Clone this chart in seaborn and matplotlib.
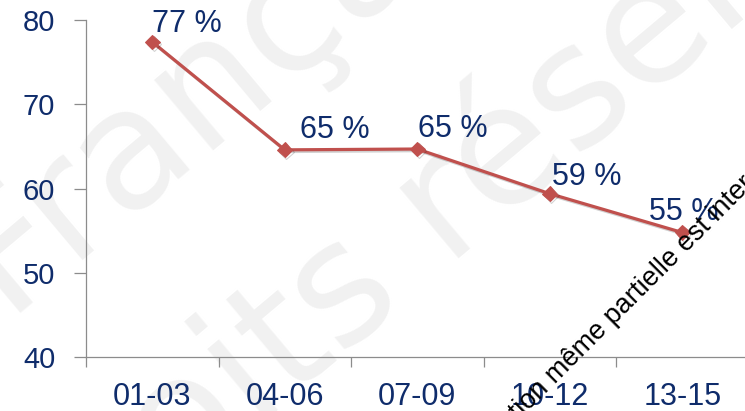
import matplotlib
matplotlib.use("Agg")
import matplotlib.pyplot as plt
import matplotlib.patheffects as pe
import seaborn as sns
import pandas as pd

# Data
periods = ["01-03", "04-06", "07-09", "10-12", "13-15"]
rates = [77.4, 64.6, 64.7, 59.4, 54.8]
y_ticks = [40, 50, 60, 70, 80]

# Label offsets from each marker, in pixels (dx to text left, dy to baseline)
label_offsets = [(0, 10), (15, 12), (1, 12), (2, 9), (-33, 12)]

sns.set_theme(style="white")
plt.rcParams["font.family"] = ["Liberation Sans", "DejaVu Sans"]

navy = "#0F2C6B"
red = "#C0504D"
axis_grey = "#8C8C8C"

W, H = 745, 411
fig = plt.figure(figsize=(W / 100, H / 100), dpi=100)
fig.patch.set_facecolor("white")

ax = fig.add_axes([86 / W, 1 - 357.3 / H, 662.5 / W, (357.3 - 20) / H])
ax.set_facecolor("none")

df = pd.DataFrame({"period": periods, "rate": rates})
sns.lineplot(data=df, x="period", y="rate", sort=False, ax=ax,
             color=red, linewidth=2.3, marker="D", markersize=7.5,
             markeredgecolor=red, markerfacecolor=red)
for line in ax.lines:
    line.set_path_effects([
        pe.SimpleLineShadow(offset=(1.2, -1.2), shadow_color="black", alpha=0.18),
        pe.Normal(),
    ])

for i, (v, (dx, dy)) in enumerate(zip(rates, label_offsets)):
    ax.annotate(f"{v:.0f} %", xy=(i, v), xytext=(dx, dy),
                textcoords="offset pixels", ha="left", va="baseline",
                fontsize=22, color=navy)

ax.set_xlim(-0.5, len(periods) - 0.5)
ax.set_ylim(40, 80)
ax.set_yticks(y_ticks)
ax.set_xticks(range(len(periods)))
ax.set_xticks([i - 0.5 for i in range(len(periods) + 1)], minor=True)
ax.set_xlabel("")
ax.set_ylabel("")

for side in ("top", "right"):
    ax.spines[side].set_visible(False)
for side in ("left", "bottom"):
    ax.spines[side].set_color(axis_grey)
    ax.spines[side].set_linewidth(0.9)

ax.tick_params(axis="y", which="major", direction="out", length=8.6,
               width=0.9, color=axis_grey, labelsize=21, labelcolor=navy,
               pad=13.5, left=True)
ax.tick_params(axis="x", which="major", length=0, labelsize=22,
               labelcolor=navy, pad=18)
ax.tick_params(axis="x", which="minor", direction="out", length=7.2,
               width=0.9, color=axis_grey, bottom=True)

# Faint background watermark
wm_color = "#F1F1F1"
wm_font = ["DejaVu Sans"]
fig.text(4 / W, 1 - 312 / H, "Française", rotation=40, rotation_mode="anchor",
         ha="left", va="baseline", fontsize=120, family=wm_font,
         color=wm_color, zorder=-5)
fig.text(46 / W, 1 - 605 / H, "droits réservés", rotation=40,
         rotation_mode="anchor", ha="left", va="baseline", fontsize=120,
         family=wm_font, color=wm_color, zorder=-5)

# Copyright notice across the plot
fig.text(606 / W, 1 - 324 / H, "Reproduction même partielle est interdite",
         rotation=45, rotation_mode="anchor", ha="center", va="center",
         fontsize=19.5, color="black", zorder=10)

fig.savefig("out.png", dpi=100)
